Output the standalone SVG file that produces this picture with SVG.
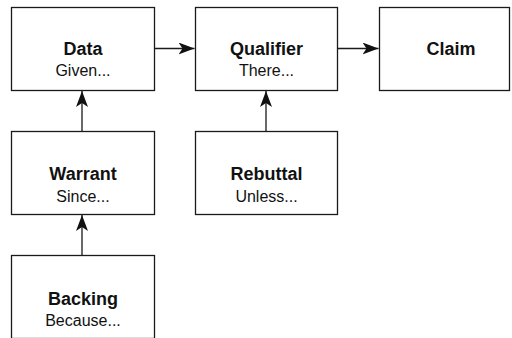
<svg xmlns="http://www.w3.org/2000/svg" width="512" height="338" viewBox="0 0 512 338">
  <style>
    .box { fill: #ffffff; stroke: #1a1a1a; stroke-width: 1.3; }
    .title { font-family: "Liberation Sans", Arial, sans-serif; font-weight: bold; font-size: 18px; fill: #111; text-anchor: middle; }
    .sub { font-family: "Liberation Sans", Arial, sans-serif; font-size: 16px; fill: #111; text-anchor: middle; }
    .edge { stroke: #1a1a1a; stroke-width: 1.3; fill: none; marker-end: url(#arrow); }
  </style>
  <defs>
    <marker id="arrow" markerUnits="userSpaceOnUse" viewBox="0 0 16 12" refX="16" refY="6" markerWidth="16" markerHeight="12" orient="auto">
      <path d="M0,0 L16,6 L0,12 L4,6 Z" fill="#111"/>
    </marker>
  </defs>
  <rect width="512" height="338" fill="#ffffff"/>

  <g id="connectors">
    <line class="edge" x1="154" y1="48.5" x2="194.5" y2="48.5"/>
    <line class="edge" x1="337" y1="48.5" x2="378.5" y2="48.5"/>
    <line class="edge" x1="82" y1="131.5" x2="82" y2="91"/>
    <line class="edge" x1="266" y1="131.5" x2="266" y2="91"/>
    <line class="edge" x1="82" y1="255.5" x2="82" y2="215"/>
  </g>

  <g id="data">
    <rect class="box" x="11.5" y="7.5" width="143" height="83"/>
    <text class="title" x="83" y="55">Data</text>
    <text class="sub" x="83" y="75.5">Given...</text>
  </g>
  <g id="qualifier">
    <rect class="box" x="195.5" y="7.5" width="142" height="83"/>
    <text class="title" x="266.5" y="55">Qualifier</text>
    <text class="sub" x="266.5" y="75.5">There...</text>
  </g>
  <g id="claim">
    <rect class="box" x="379.5" y="7.5" width="130" height="83"/>
    <text class="title" x="451" y="55">Claim</text>
  </g>
  <g id="warrant">
    <rect class="box" x="11.5" y="131.5" width="143" height="83"/>
    <text class="title" x="83" y="180">Warrant</text>
    <text class="sub" x="83" y="201.5">Since...</text>
  </g>
  <g id="rebuttal">
    <rect class="box" x="195.5" y="131.5" width="142" height="83"/>
    <text class="title" x="266.5" y="180">Rebuttal</text>
    <text class="sub" x="266.5" y="201.5">Unless...</text>
  </g>
  <g id="backing">
    <rect class="box" x="11.5" y="255.5" width="143" height="83"/>
    <text class="title" x="83" y="304.5">Backing</text>
    <text class="sub" x="83" y="325.5">Because...</text>
  </g>
</svg>
